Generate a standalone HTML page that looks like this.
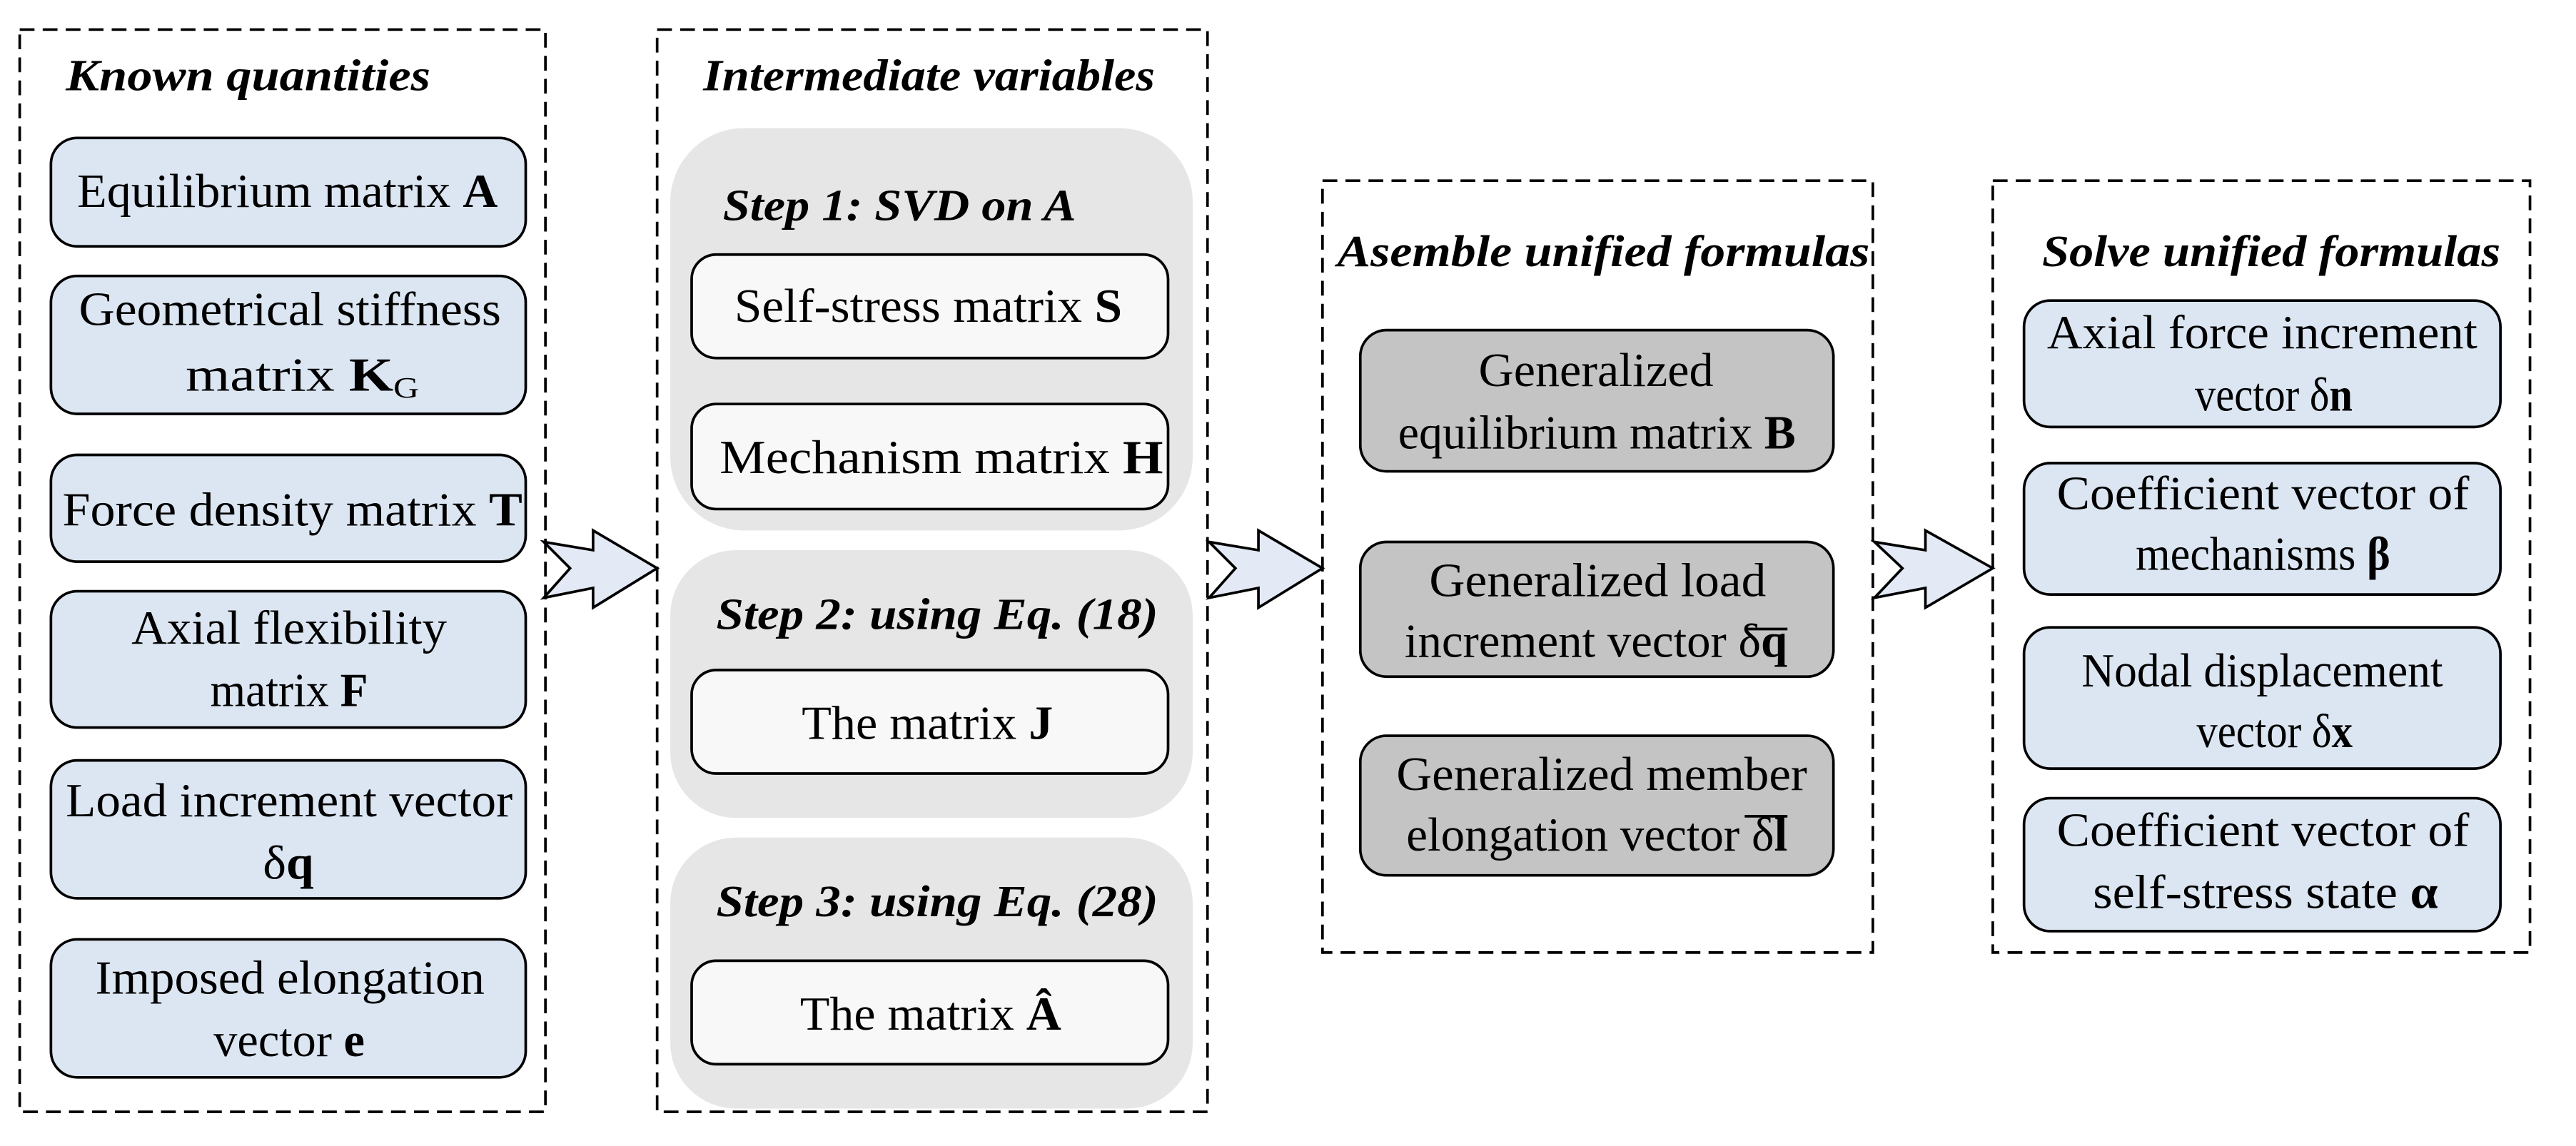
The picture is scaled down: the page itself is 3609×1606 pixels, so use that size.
<!DOCTYPE html>
<html><head><meta charset="utf-8"><style>
html,body{margin:0;padding:0;background:#fff;}
svg{display:block;}
text{font-family:"Liberation Serif",serif;fill:#000;}
.t{font-size:29px;}
.h{font-size:27px;font-weight:bold;font-style:italic;}
</style></head><body>
<svg width="3609" height="1606" viewBox="0 0 1568 697.8" preserveAspectRatio="none" xmlns="http://www.w3.org/2000/svg">
<g fill="none" stroke="#000" stroke-width="1.6" stroke-dasharray="9,5">
<rect x="12" y="18" width="320" height="659"/>
<rect x="400" y="18" width="335" height="659"/>
<rect x="805" y="110" width="335" height="470"/>
<rect x="1213" y="110" width="327" height="470"/>
</g>
<g fill="#e6e6e6">
<rect x="408" y="78" width="318" height="245" rx="45"/>
<rect x="408" y="335" width="318" height="163" rx="40"/>
<rect x="408" y="510" width="318" height="165" rx="40"/>
</g>
<g stroke="#000" stroke-width="1.6">
<g fill="#dce6f2">
<rect x="31" y="84" width="289" height="66" rx="16"/>
<rect x="31" y="168" width="289" height="84" rx="16"/>
<rect x="31" y="277" width="289" height="65" rx="16"/>
<rect x="31" y="360" width="289" height="83" rx="16"/>
<rect x="31" y="463" width="289" height="84" rx="16"/>
<rect x="31" y="572" width="289" height="84" rx="16"/>
<rect x="1232" y="183" width="290" height="77" rx="16"/>
<rect x="1232" y="282" width="290" height="80" rx="16"/>
<rect x="1232" y="382" width="290" height="86" rx="16"/>
<rect x="1232" y="486" width="290" height="81" rx="16"/>
</g>
<g fill="#f8f8f8">
<rect x="421" y="155" width="290" height="63" rx="15"/>
<rect x="421" y="246" width="290" height="64" rx="15"/>
<rect x="421" y="408" width="290" height="63" rx="15"/>
<rect x="421" y="585" width="290" height="63" rx="15"/>
</g>
<g fill="#c4c4c4">
<rect x="828" y="201" width="288" height="86" rx="16"/>
<rect x="828" y="330" width="288" height="82" rx="16"/>
<rect x="828" y="448" width="288" height="85" rx="16"/>
</g>
<g fill="#e3eaf5" stroke-linejoin="miter">
<polygon points="331,330 361,335 361,323 400,346 361,370 361,358 331,364 347,346"/>
<polygon points="736,330 766,335 766,323 805,346 766,370 766,358 736,364 752,346"/>
<polygon points="1141,330 1172,335 1172,323 1213,346 1172,370 1172,358 1141,364 1158,346"/>
</g>
<line x1="1062" y1="383" x2="1088" y2="383"/>
<line x1="1062" y1="497" x2="1088" y2="497"/>
</g>
<g class="h">
<text x="40" y="55" textLength="222" lengthAdjust="spacingAndGlyphs">Known quantities</text>
<text x="428" y="55" textLength="275" lengthAdjust="spacingAndGlyphs">Intermediate variables</text>
<text x="440" y="134" textLength="215" lengthAdjust="spacingAndGlyphs">Step 1: SVD on A</text>
<text x="436" y="383" textLength="269" lengthAdjust="spacingAndGlyphs">Step 2: using Eq. (18)</text>
<text x="436" y="558" textLength="269" lengthAdjust="spacingAndGlyphs">Step 3: using Eq. (28)</text>
<text x="814" y="162" textLength="324" lengthAdjust="spacingAndGlyphs">Asemble unified formulas</text>
<text x="1243" y="162" textLength="279" lengthAdjust="spacingAndGlyphs">Solve unified formulas</text>
</g>
<g class="t">
<text x="47" y="126" textLength="256" lengthAdjust="spacingAndGlyphs">Equilibrium matrix <tspan font-weight="bold">A</tspan></text>
<text x="48" y="198" textLength="257" lengthAdjust="spacingAndGlyphs">Geometrical stiffness</text>
<text x="113" y="238" textLength="142" lengthAdjust="spacingAndGlyphs">matrix <tspan font-weight="bold">K</tspan><tspan font-size="18" dy="4">G</tspan></text>
<text x="38" y="320" textLength="280" lengthAdjust="spacingAndGlyphs">Force density matrix <tspan font-weight="bold">T</tspan></text>
<text x="80" y="392" textLength="192" lengthAdjust="spacingAndGlyphs">Axial flexibility</text>
<text x="128" y="430" textLength="96" lengthAdjust="spacingAndGlyphs">matrix <tspan font-weight="bold">F</tspan></text>
<text x="40" y="497" textLength="272" lengthAdjust="spacingAndGlyphs">Load increment vector</text>
<text x="160" y="535" textLength="31" lengthAdjust="spacingAndGlyphs">δ<tspan font-weight="bold">q</tspan></text>
<text x="58" y="605" textLength="237" lengthAdjust="spacingAndGlyphs">Imposed elongation</text>
<text x="130" y="643" textLength="92" lengthAdjust="spacingAndGlyphs">vector <tspan font-weight="bold">e</tspan></text>

<text x="447" y="196" textLength="236" lengthAdjust="spacingAndGlyphs">Self-stress matrix <tspan font-weight="bold">S</tspan></text>
<text x="438" y="288" textLength="270" lengthAdjust="spacingAndGlyphs">Mechanism matrix <tspan font-weight="bold">H</tspan></text>
<text x="488" y="450" textLength="153" lengthAdjust="spacingAndGlyphs">The matrix <tspan font-weight="bold">J</tspan></text>
<text x="487" y="627" textLength="159" lengthAdjust="spacingAndGlyphs">The matrix <tspan font-weight="bold">Â</tspan></text>

<text x="900" y="235" textLength="143" lengthAdjust="spacingAndGlyphs">Generalized</text>
<text x="851" y="273" textLength="242" lengthAdjust="spacingAndGlyphs">equilibrium matrix <tspan font-weight="bold">B</tspan></text>
<text x="870" y="363" textLength="205" lengthAdjust="spacingAndGlyphs">Generalized load</text>
<text x="855" y="400" textLength="233" lengthAdjust="spacingAndGlyphs">increment vector δ<tspan font-weight="bold">q</tspan></text>
<text x="850" y="481" textLength="250" lengthAdjust="spacingAndGlyphs">Generalized member</text>
<text x="856" y="518" textLength="232" lengthAdjust="spacingAndGlyphs">elongation vector δ<tspan font-weight="bold">l</tspan></text>

<text x="1246" y="212" textLength="262" lengthAdjust="spacingAndGlyphs">Axial force increment</text>
<text x="1336" y="250" textLength="96" lengthAdjust="spacingAndGlyphs">vector δ<tspan font-weight="bold">n</tspan></text>
<text x="1252" y="310" textLength="251" lengthAdjust="spacingAndGlyphs">Coefficient vector of</text>
<text x="1300" y="347" textLength="155" lengthAdjust="spacingAndGlyphs">mechanisms <tspan font-weight="bold">β</tspan></text>
<text x="1267" y="418" textLength="220" lengthAdjust="spacingAndGlyphs">Nodal displacement</text>
<text x="1337" y="455" textLength="95" lengthAdjust="spacingAndGlyphs">vector δ<tspan font-weight="bold">x</tspan></text>
<text x="1252" y="515" textLength="251" lengthAdjust="spacingAndGlyphs">Coefficient vector of</text>
<text x="1274" y="553" textLength="210" lengthAdjust="spacingAndGlyphs">self-stress state <tspan font-weight="bold">α</tspan></text>
</g>
</svg>
</body></html>
